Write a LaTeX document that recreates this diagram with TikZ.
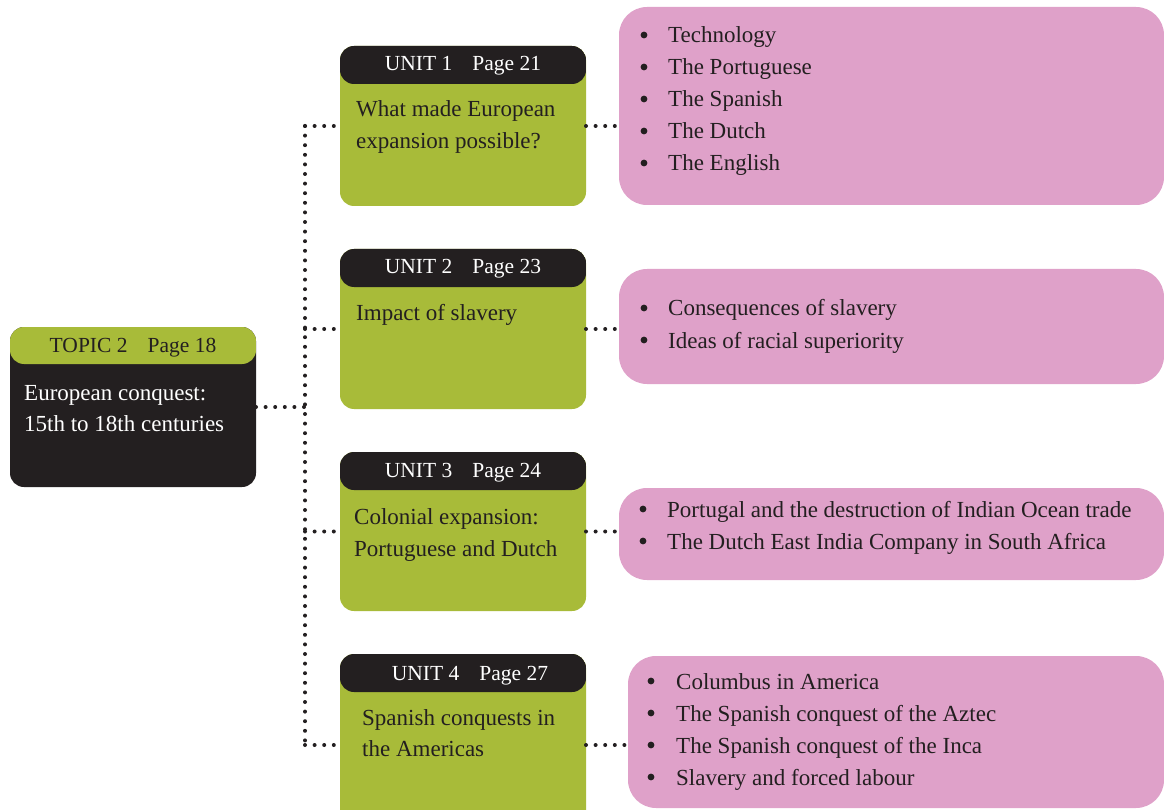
\documentclass[tikz,border=0pt]{standalone}
\usepackage{fontspec}
\setmainfont{Liberation Serif}
\definecolor{inkdark}{HTML}{231F20}
\definecolor{leafgreen}{HTML}{A8BB39}
\definecolor{softpink}{HTML}{DFA1C9}
\tikzset{
  hdrblack/.style={path picture={\fill[inkdark] (path picture bounding box.north west) rectangle ([yshift=-38pt]path picture bounding box.north east);}},
  hdrgreen/.style={path picture={\fill[leafgreen] (path picture bounding box.north west) rectangle ([yshift=-37pt]path picture bounding box.north east);}},
  unitbox/.style={rectangle, rounded corners=14pt, fill=leafgreen, hdrblack, minimum width=246pt, anchor=north west, inner sep=0pt, outer sep=0pt},
  topicbox/.style={rectangle, rounded corners=14pt, fill=inkdark, hdrgreen, minimum width=246pt, minimum height=160pt, anchor=north west, inner sep=0pt, outer sep=0pt},
  pinkbox/.style={rectangle, rounded corners=28pt, fill=softpink, anchor=north west, inner sep=0pt, outer sep=0pt},
  txt/.style={anchor=base west, inner sep=0pt, text=inkdark, font=\fontsize{23}{27}\selectfont},
  wtxt/.style={txt, text=white},
  hdr/.style={anchor=base, inner sep=0pt, font=\fontsize{21.5}{26}\selectfont},
  dots/.style={draw=inkdark, line width=4pt, line cap=round, dash pattern=on 0pt off 9.6pt},
  bul/.style={fill=inkdark}
}
\newcommand{\pgap}{\hspace{20pt}}
\begin{document}
\begin{tikzpicture}[x=1pt,y=-1pt]
\useasboundingbox (0,0) rectangle (1164,810);
\clip (0,0) rectangle (1164,810);

% topic box
\node[topicbox] (topic) at (10,327) {};
\node[hdr, text=inkdark] (topich) at (133,352) {TOPIC 2\pgap Page 18};
\node[wtxt] (topica) at (24,400) {European conquest:};
\node[wtxt] (topicb) at (24,431) {15th to 18th centuries};

% unit boxes
\node[unitbox, minimum height=160pt] (u1) at (340,46) {};
\node[hdr, text=white] (u1h) at (463,71) {UNIT 1\pgap Page 21};
\node[txt] (u1a) at (356,117) {What made European};
\node[txt] (u1b) at (356,149) {expansion possible?};

\node[unitbox, minimum height=160pt] (u2) at (340,249) {};
\node[hdr, text=white] (u2h) at (463,274) {UNIT 2\pgap Page 23};
\node[txt] (u2a) at (356,320) {Impact of slavery};

\node[unitbox, minimum height=159pt] (u3) at (340,452) {};
\node[hdr, text=white] (u3h) at (463,477) {UNIT 3\pgap Page 24};
\node[txt] (u3a) at (354,524) {Colonial expansion:};
\node[txt] (u3b) at (354,556) {Portuguese and Dutch};

\node[unitbox, minimum height=182pt] (u4) at (340,654) {};
\node[hdr, text=white] (u4h) at (470,680) {UNIT 4\pgap Page 27};
\node[txt] (u4a) at (362,725) {Spanish conquests in};
\node[txt] (u4b) at (362,756) {the Americas};

% pink detail boxes
\node[pinkbox, minimum width=545pt, minimum height=198pt] (p1) at (619,7) {};
\node[pinkbox, minimum width=545pt, minimum height=115pt] (p2) at (619,269) {};
\node[pinkbox, minimum width=545pt, minimum height=92pt] (p3) at (619,488) {};
\node[pinkbox, minimum width=536pt, minimum height=152pt] (p4) at (628,656) {};

% bullet lists
\foreach \y in {43,75,107,139,171} \fill[bul] (644,\y-8) circle (3.4);
\node[txt] (p1a) at (668,43) {Technology};
\node[txt] (p1b) at (668,75) {The Portuguese};
\node[txt] (p1c) at (668,107) {The Spanish};
\node[txt] (p1d) at (668,139) {The Dutch};
\node[txt] (p1e) at (668,171) {The English};

\foreach \y in {316,348} \fill[bul] (644,\y-8) circle (3.4);
\node[txt] (p2a) at (668,316) {Consequences of slavery};
\node[txt] (p2b) at (668,348) {Ideas of racial superiority};

\foreach \y in {517,549} \fill[bul] (643,\y-8) circle (3.4);
\node[txt] (p3a) at (667,517) {Portugal and the destruction of Indian Ocean trade};
\node[txt] (p3b) at (667,549) {The Dutch East India Company in South Africa};

\foreach \y in {689,721,753,785} \fill[bul] (651,\y-8) circle (3.4);
\node[txt] (p4a) at (676,689) {Columbus in America};
\node[txt] (p4b) at (676,721) {The Spanish conquest of the Aztec};
\node[txt] (p4c) at (676,753) {The Spanish conquest of the Inca};
\node[txt] (p4d) at (676,785) {Slavery and forced labour};

% dotted connectors
\coordinate (trunk) at (305,407);
\draw[dots] (topic.east) -- (trunk);
\draw[dots] (u1.west -| trunk) -- (u4.west -| trunk);
\foreach \u in {u1,u2,u3,u4} \draw[dots] (\u.west -| trunk) -- (\u.west);
\draw[dots] (u1.east) -- (u1.east -| p1.west);
\draw[dots] (u2.east) -- (u2.east -| p2.west);
\draw[dots] (u3.east) -- (u3.east -| p3.west);
\draw[dots] (u4.east) -- (u4.east -| p4.west);
\end{tikzpicture}
\end{document}
